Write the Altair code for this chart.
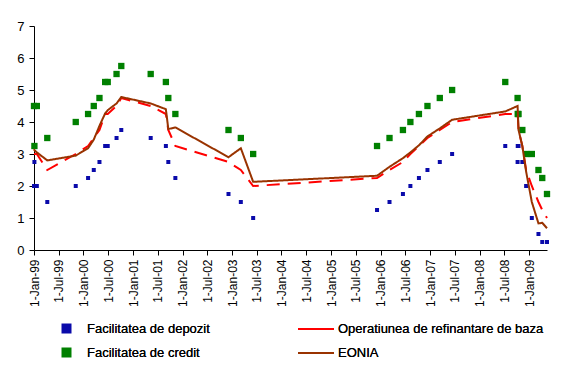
import altair as alt
import pandas as pd

# ---- data ----
dates = ["1999-01-01", "1999-01-04", "1999-01-22", "1999-04-09", "1999-11-05",
         "2000-02-04", "2000-03-17", "2000-04-28", "2000-06-09", "2000-06-28",
         "2000-09-01", "2000-10-06", "2001-05-11", "2001-08-31", "2001-09-18",
         "2001-11-09", "2002-12-06", "2003-03-07", "2003-06-06", "2005-12-06",
         "2006-03-08", "2006-06-15", "2006-08-09", "2006-10-11", "2006-12-13",
         "2007-03-14", "2007-06-13", "2008-07-09", "2008-10-08", "2008-10-09",
         "2008-10-15", "2008-11-12", "2008-12-10", "2009-01-21", "2009-03-11",
         "2009-04-08", "2009-05-13"]

depozit = [2.00, 2.75, 2.00, 1.50, 2.00, 2.25, 2.50, 2.75, 3.25, 3.25,
           3.50, 3.75, 3.50, 3.25, 2.75, 2.25, 1.75, 1.50, 1.00, 1.25,
           1.50, 1.75, 2.00, 2.25, 2.50, 2.75, 3.00, 3.25, 2.75, 3.25,
           3.25, 2.75, 2.00, 1.00, 0.50, 0.25, 0.25]

credit = [4.50, 3.25, 4.50, 3.50, 4.00, 4.25, 4.50, 4.75, 5.25, 5.25,
          5.50, 5.75, 5.50, 5.25, 4.75, 4.25, 3.75, 3.50, 3.00, 3.25,
          3.50, 3.75, 4.00, 4.25, 4.50, 4.75, 5.00, 5.25, 4.75, 4.25,
          4.25, 3.75, 3.00, 3.00, 2.50, 2.25, 1.75]

refinantare = [3.00, 3.00, 3.00, 2.50, 3.00, 3.25, 3.50, 3.75, 4.25, 4.25,
               4.50, 4.75, 4.50, 4.25, 3.75, 3.25, 2.75, 2.50, 2.00, 2.25,
               2.50, 2.75, 3.00, 3.25, 3.50, 3.75, 4.00, 4.25, 4.25, 4.25,
               3.75, 3.25, 2.50, 2.00, 1.50, 1.25, 1.00]

eonia = [3.15, 3.12, 3.05, 2.80, 2.95, 3.18, 3.45, 3.88, 4.27, 4.37,
         4.58, 4.78, 4.58, 4.40, 3.78, 3.83, 2.90, 3.18, 2.13, 2.32,
         2.60, 2.87, 3.05, 3.27, 3.55, 3.80, 4.07, 4.33, 4.50, 4.40,
         3.75, 3.25, 2.45, 1.50, 0.83, 0.85, 0.68]

point_names = ["Facilitatea de depozit", "Facilitatea de credit"]
line_names = ["Operatiunea de refinantare de baza", "EONIA"]

tick_dates = pd.date_range("1999-01-01", "2009-01-01", freq="6MS").strftime("%Y-%m-%d").tolist()
y_ticks = [0, 1, 2, 3, 4, 5, 6, 7]
x_start, x_end = "1999-01-01", "2009-05-13"

# ---- tables ----
pts = pd.concat([
    pd.DataFrame({"date": dates, "value": depozit, "series": point_names[0]}),
    pd.DataFrame({"date": dates, "value": credit, "series": point_names[1]}),
])
lns = pd.concat([
    pd.DataFrame({"date": dates, "value": refinantare, "series": line_names[0]}),
    pd.DataFrame({"date": dates, "value": eonia, "series": line_names[1]}),
])

def ms(d):
    return int(pd.Timestamp(d, tz="UTC").timestamp() * 1000)

FONT = "Liberation Sans"

x_enc = alt.X("date:T",
              scale=alt.Scale(type="utc", domain=[ms(x_start), ms(x_end)], nice=False),
              axis=alt.Axis(values=[ms(d) for d in tick_dates],
                            labelExpr="utcFormat(datum.value, '%-d-%b-%y')",
                            labelAngle=270, labelFontSize=12,
                            labelFont=FONT, labelColor="black", tickSize=5,
                            tickColor="black", domainColor="black", labelPadding=4,
                            grid=False, labelOverlap=False, labelFlush=False),
              title=None)
y_enc = alt.Y("value:Q",
              scale=alt.Scale(domain=[0, 7], nice=False, zero=True),
              axis=alt.Axis(values=y_ticks, labelFontSize=13, labelFont=FONT,
                            labelColor="black", tickSize=5, tickColor="black",
                            domainColor="black", labelPadding=5, grid=False),
              title=None)

pt_legend = alt.Legend(title=None, orient="none", legendX=26, legendY=296,
                       direction="vertical", labelFontSize=13, labelFont=FONT,
                       labelColor="black", labelOffset=14, rowPadding=10,
                       padding=0, symbolType="square", symbolStrokeWidth=0,
                       labelLimit=300)

points = alt.Chart(pts).mark_square(opacity=1).encode(
    x=x_enc, y=y_enc,
    color=alt.Color("series:N", scale=alt.Scale(domain=point_names, range=["#0a0aaa", "#008000"]),
                    legend=pt_legend),
    size=alt.Size("series:N", scale=alt.Scale(domain=point_names, range=[16, 40]),
                  legend=pt_legend),
)

ln_legend = alt.Legend(title=None, orient="none", legendX=275, legendY=296,
                       direction="vertical", labelFontSize=13, labelFont=FONT,
                       labelColor="black", labelOffset=15, rowPadding=10,
                       padding=0, symbolType="M-3,0H3", symbolSize=144,
                       symbolStrokeWidth=2, labelLimit=300)

lines = alt.Chart(lns).mark_line(strokeWidth=2).encode(
    x=x_enc, y=y_enc,
    color=alt.Color("series:N", scale=alt.Scale(domain=line_names, range=["#ff0000", "#993300"]),
                    legend=ln_legend),
    strokeDash=alt.StrokeDash("series:N", scale=alt.Scale(domain=line_names, range=[[13, 8], [1, 0]]),
                              legend=ln_legend),
)

chart = alt.layer(points, lines).resolve_scale(color="independent").properties(
    width=513, height=224,
    autosize=alt.AutoSizeParams(type="none"),
    padding={"left": 26, "top": 18, "right": 19, "bottom": 110},
    background="white",
).configure_view(stroke=None)

chart.save("out.html", embed_options={"renderer": "svg", "actions": False})
